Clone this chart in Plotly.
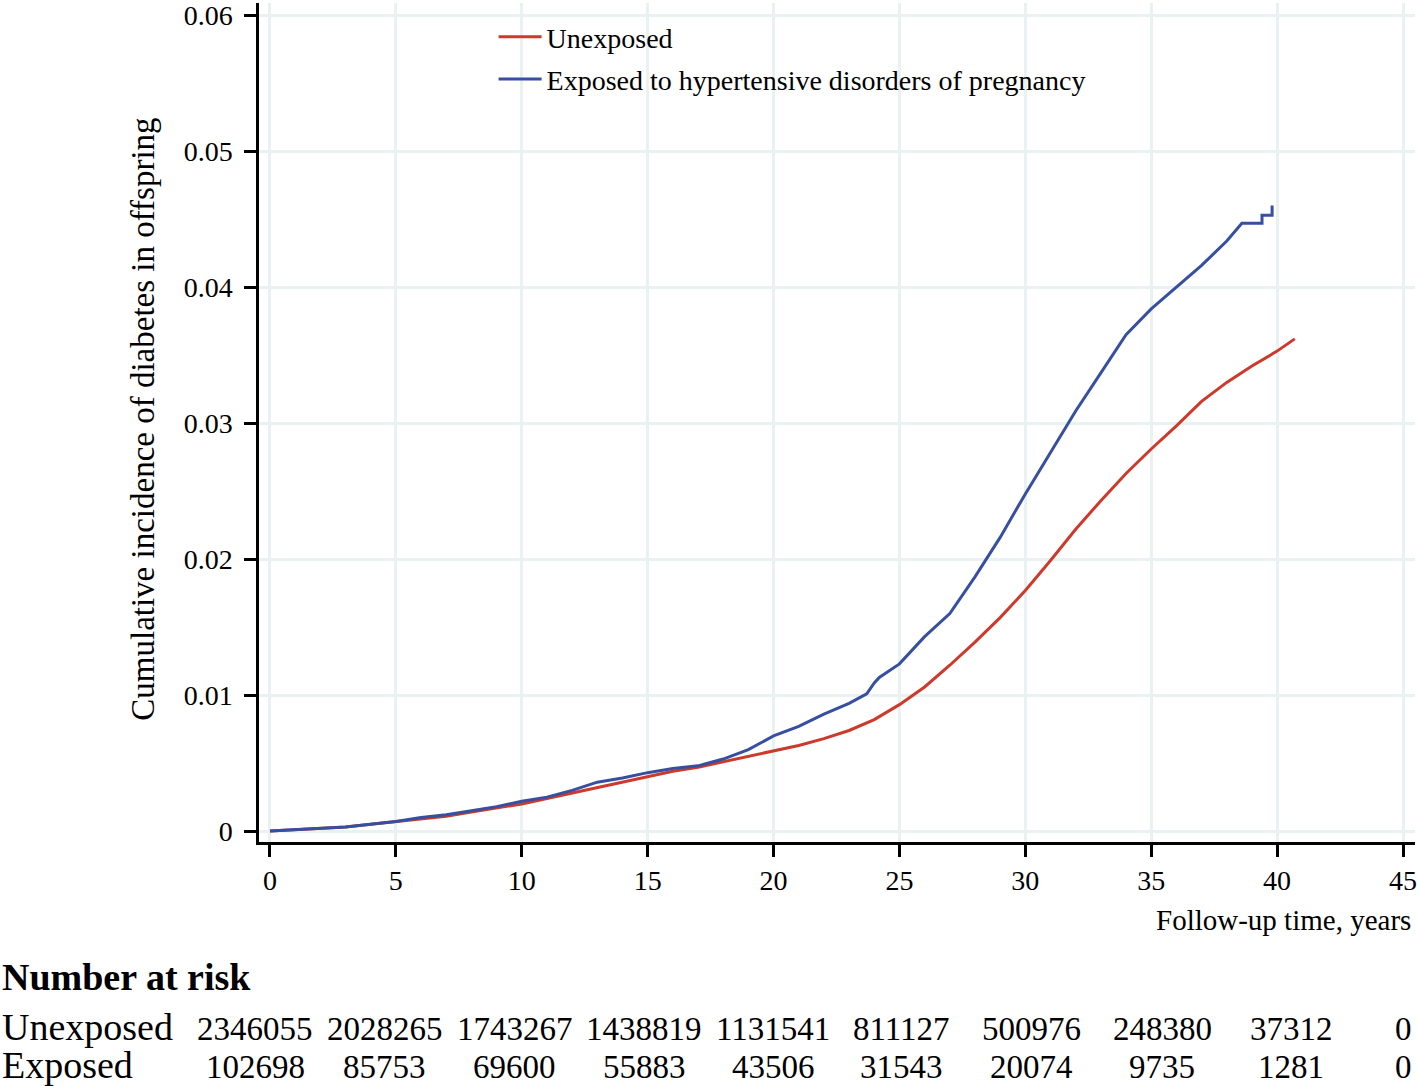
import plotly.graph_objects as go

# ---------------- data ----------------
unexp_t = [0, 1, 2, 3, 4, 5, 6, 7, 8, 9, 10, 11, 12, 13, 14, 15, 16, 17, 18, 19, 20,
           21, 22, 23, 24, 25, 26, 27, 28, 29, 30, 31, 32, 33, 34, 35, 36, 37, 38, 39, 40, 40.7]
unexp_v = [0, 0.0001, 0.0002, 0.0003, 0.0005, 0.0007, 0.0009, 0.0011, 0.0014, 0.0017, 0.0020,
           0.0024, 0.0028, 0.0032, 0.0036, 0.0040, 0.0044, 0.0047, 0.0051, 0.0055, 0.0059,
           0.0063, 0.0068, 0.0074, 0.0082, 0.0093, 0.0106, 0.0122, 0.0139, 0.0157, 0.0177,
           0.0199, 0.0222, 0.0243, 0.0263, 0.0281, 0.0298, 0.0316, 0.0330, 0.0342, 0.0353, 0.0362]

exp_t = [0, 1, 2, 3, 4, 5, 6, 7, 8, 9, 10, 11, 12, 13, 14, 15, 16, 17, 18, 19, 20,
         21, 22, 23, 23.7, 24.0, 24.2, 25, 26, 27, 28, 29, 30, 31, 32, 33, 34, 35, 36, 37,
         38, 38.6, 39.0, 39.4, 39.4, 39.8, 39.8]
exp_v = [0, 0.0001, 0.0002, 0.0003, 0.0005, 0.0007, 0.0010, 0.0012, 0.0015, 0.0018, 0.0022,
         0.0025, 0.0030, 0.0036, 0.0039, 0.0043, 0.0046, 0.0048, 0.0053, 0.0060, 0.0070,
         0.0077, 0.0086, 0.0094, 0.0101, 0.0109, 0.0113, 0.0123, 0.0143, 0.0160, 0.0187,
         0.0216, 0.0248, 0.0278, 0.0309, 0.0337, 0.0365, 0.0384, 0.0400, 0.0416,
         0.0434, 0.0447, 0.0447, 0.0447, 0.0453, 0.0453, 0.0460]

series_names = ["Unexposed", "Exposed to hypertensive disorders of pregnancy"]

x_ticks = [0, 5, 10, 15, 20, 25, 30, 35, 40, 45]
y_ticks = [0, 0.01, 0.02, 0.03, 0.04, 0.05, 0.06]
y_tick_labels = ["0", "0.01", "0.02", "0.03", "0.04", "0.05", "0.06"]

risk_rows = ["Unexposed", "Exposed"]
risk_unexposed = ["2346055", "2028265", "1743267", "1438819", "1131541", "811127",
                  "500976", "248380", "37312", "0"]
risk_exposed = ["102698", "85753", "69600", "55883", "43506", "31543",
                "20074", "9735", "1281", "0"]

# ---------------- layout helpers ----------------
FONT = "Liberation Serif"
W, H = 1417, 1086
L, R, T, B = 259, 0, 0, 244
PW, PH = W - L - R, H - T - B


def px(xp):
    return (xp - L) / PW


def py(yp):
    return (T + PH - yp) / PH


RED = "rgb(205,57,43)"
BLUE = "rgb(55,79,160)"
GRID = "rgb(233,241,243)"

fig = go.Figure()
fig.add_trace(go.Scatter(x=unexp_t, y=unexp_v, mode="lines", name=series_names[0],
                         line=dict(color=RED, width=3), legendgroup="a"))
fig.add_trace(go.Scatter(x=exp_t, y=exp_v, mode="lines", name=series_names[1],
                         line=dict(color=BLUE, width=3), legendgroup="b"))

annotations = []
# y-axis title
annotations.append(dict(x=px(142), y=py(418), xref="paper", yref="paper",
                        text="Cumulative incidence of diabetes in offspring",
                        textangle=-90, showarrow=False, xanchor="center", yanchor="middle",
                        font=dict(family=FONT, size=33, color="black")))
# x-axis title
annotations.append(dict(x=px(1415), y=py(920), xref="paper", yref="paper",
                        text="Follow-up time, years", showarrow=False,
                        xanchor="right", yanchor="middle",
                        font=dict(family=FONT, size=29, color="black")))
# number at risk
annotations.append(dict(x=px(0), y=py(977), xref="paper", yref="paper",
                        text="<b>Number at risk</b>", showarrow=False,
                        xanchor="left", yanchor="middle",
                        font=dict(family=FONT, size=38, color="black")))
row_y = [1028, 1066]
col_px = [255, 385, 515, 645, 774, 903, 1033, 1164, 1293, 1405]
for name, ry, vals in zip(risk_rows, row_y, [risk_unexposed, risk_exposed]):
    annotations.append(dict(x=px(0), y=py(ry), xref="paper", yref="paper",
                            text=name, showarrow=False, xanchor="left", yanchor="middle",
                            font=dict(family=FONT, size=38, color="black")))
    for cx, v in zip(col_px, vals):
        annotations.append(dict(x=px(cx), y=py(ry + 2), xref="paper", yref="paper",
                                text=v, showarrow=False, xanchor="center", yanchor="middle",
                                font=dict(family=FONT, size=33, color="black")))

fig.update_layout(
    width=W, height=H,
    margin=dict(l=L, r=R, t=T, b=B, pad=0),
    paper_bgcolor="white", plot_bgcolor="white",
    font=dict(family=FONT, size=28, color="black"),
    showlegend=True,
    legend=dict(x=px(494), y=py(9), xanchor="left", yanchor="top",
                bgcolor="rgba(0,0,0,0)", font=dict(family=FONT, size=28, color="black"),
                traceorder="grouped", tracegroupgap=3, itemwidth=43),
    annotations=annotations,
    xaxis=dict(range=[-0.436, 45.476], tickvals=x_ticks,
               showgrid=True, gridcolor=GRID, gridwidth=3, zeroline=False,
               showline=True, linecolor="black", linewidth=2.5,
               ticks="outside", ticklen=12, tickwidth=2.5, tickcolor="black",
               ticklabeloverflow="allow",
               tickfont=dict(family=FONT, size=28, color="black")),
    yaxis=dict(range=[-0.0008, 0.0609], tickvals=y_ticks, ticktext=y_tick_labels,
               showgrid=True, gridcolor=GRID, gridwidth=3, zeroline=False,
               showline=True, linecolor="black", linewidth=2.5,
               ticks="outside", ticklen=12, tickwidth=2.5, tickcolor="black",
               ticklabelstandoff=6, ticklabeloverflow="allow",
               tickfont=dict(family=FONT, size=28, color="black")),
)

fig.write_html("out.html", config={"displayModeBar": False},
               post_script="document.body.style.margin='0px';document.body.style.overflow='hidden';")
